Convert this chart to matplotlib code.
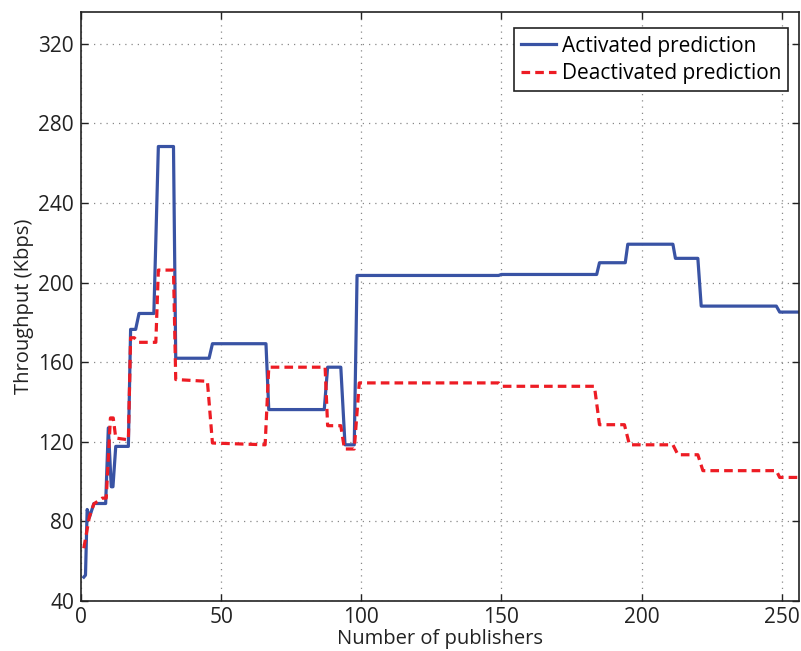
import matplotlib
matplotlib.use("Agg")
import matplotlib.pyplot as plt

plt.rcParams['font.family'] = ['Open Sans', 'DejaVu Sans']

# step curves (x = number of publishers, y = Kbps)
act_x = [1, 1.6, 2.2, 3, 4.6, 8.8, 9.75, 10.8, 11.4, 12.4, 16.9, 17.7, 19.5, 20.7, 26, 27.6, 33, 33.8,
         45.7, 46.9, 66, 67, 86.8, 88, 92.7, 94.2, 97.5, 98.5, 149, 150, 184, 185, 194.2, 195.1,
         211.2, 212.1, 220.1, 221.3, 248.1, 249.3, 257]
act_y = [52, 53, 86, 82, 89, 89, 127, 97.4, 97.4, 117.7, 117.7, 176.5, 176.5, 184.5, 184.5, 268.4, 268.4, 162,
         162, 169.3, 169.3, 136.2, 136.2, 157.5, 157.5, 118.5, 118.5, 203.6, 203.6, 204.1, 204.1, 210, 210, 219.3,
         219.3, 212.2, 212.2, 188.2, 188.2, 185.2, 185.2]

deact_x = [1, 3, 4.6, 7.6, 9, 10.5, 11.5, 12.4, 16.9, 17.7, 19, 20.5, 26.7, 27.6, 33, 33.8, 45.1, 46.9,
           65.7, 67, 87.1, 88, 92.7, 94, 97.5, 99.3, 149, 150, 183.2, 185, 193.9, 195.7, 211.2, 213,
           220.1, 221.9, 248.1, 249.3, 257]
deact_y = [66.5, 82.4, 88.8, 91.7, 91.7, 132, 132, 121.9, 121, 172.3, 172.3, 170, 170, 206.3, 206.3, 151.3,
           150.4, 119.4, 118.5, 157.5, 157.5, 128.1, 128.1, 116.4, 116.4, 149.6, 149.6, 147.9, 147.9, 128.6,
           128.6, 118.5, 118.5, 113.5, 113.5, 105.5, 105.5, 102.1, 102.1]

xticks = [0, 50, 100, 150, 200, 250]
yticks = [40, 80, 120, 160, 200, 240, 280, 320]

fig = plt.figure(figsize=(8.01, 6.51), dpi=100)
ax = fig.add_axes([81/801, 50/651, 718.3/801, 589/651])

ax.plot(act_x, act_y, color="#3953A4", lw=2.3, label="Activated prediction")
ax.plot(deact_x, deact_y, color="#ED1C24", lw=2.3, dashes=(2.7, 1.6), label="Deactivated prediction")

ax.set_xlim(0, 256.3)
ax.set_ylim(40, 336)
ax.set_xticks(xticks)
ax.set_yticks(yticks)
ax.tick_params(direction="in", length=5, width=1, labelsize=15, pad=5,
               top=True, right=True, colors="#222222")
ax.tick_params(axis="x", pad=4)
ax.grid(True, linestyle=(0, (1, 4)), color="#888888", lw=0.9)
for s in ax.spines.values():
    s.set_linewidth(1.2)
    s.set_color("#222222")

ax.set_xlabel("Number of publishers", fontsize=14.5, color="#222222")
ax.xaxis.set_label_coords(0.5, -48 / 589, transform=ax.transAxes)
ax.xaxis.label.set_va("bottom")
ax.set_ylabel("Throughput (Kbps)", fontsize=14.5, labelpad=3, color="#222222")

leg = ax.legend(loc="upper right", bbox_to_anchor=((788.3 - 81) / 718.3, (601 - 28.3) / 589),
                borderaxespad=0, fancybox=False, framealpha=1, fontsize=15,
                handlelength=1.7, handletextpad=0.25, borderpad=0.35, labelspacing=0.3)
leg.get_frame().set_edgecolor("#222222")
leg.get_frame().set_linewidth(1.2)

fig.savefig("out.png", dpi=100)
